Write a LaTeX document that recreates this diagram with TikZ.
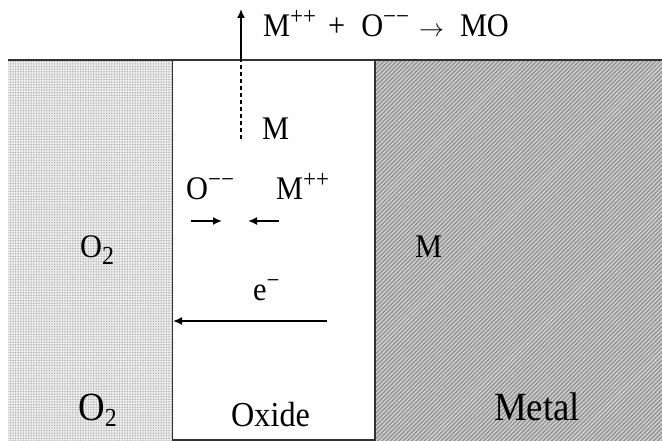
\documentclass[tikz,border=0pt]{standalone}
\usepackage{fontspec}
\setmainfont{Liberation Serif}
\newfontfamily\lab[FakeStretch=0.92]{Liberation Serif}
\newcommand\up[1]{\raisebox{12pt}{\fontsize{25}{27}\selectfont #1}}
\newcommand\down[1]{\raisebox{-6pt}{\fontsize{26}{28}\selectfont #1}}
\usepackage{tikz}
\usetikzlibrary{arrows.meta,patterns.meta}

\begin{document}
\begin{tikzpicture}[x=1pt,y=-1pt,
  lab/.style={font=\lab\fontsize{33}{36}\selectfont,inner sep=0pt,anchor=base west},
  biglab/.style={font=\lab\fontsize{40}{44}\selectfont,inner sep=0pt,anchor=base west},
  edge/.style={line width=1.8pt,black!80},
  flow/.style={line width=1.6pt,-{Latex[length=9pt,width=8pt]}}]
\useasboundingbox (0,0) rectangle (662,441);
% gas, oxide and metal
\fill[gray!15] (8,60) rectangle (172,441);
\fill[pattern={Dots[distance=2.6pt,radius=0.75pt]},pattern color=gray!70] (8,60) rectangle (172,441);
\fill[gray!35] (375,60) rectangle (662,441);
\fill[pattern={Lines[angle=45,distance=3pt,line width=1.4pt]},pattern color=gray!85] (375,60) rectangle (662,441);
\draw[edge] (8,60) -- (662,60);
\draw[line width=1pt,black!80] (172,60) -- (172,441);
\draw[edge] (375,60) -- (375,441);
\draw[edge] (172,440) -- (375,440);

\node[lab] (react) at (263,37) {M\up{++}\hspace{12pt}+\hspace{16pt}O\up{−−}\hspace{10pt}{\fontsize{25}{27}\selectfont$\rightarrow$}\hspace{16pt}MO};
\node[lab] (m) at (262,140) {M};
\node[lab] (oion) at (186,200) {O\up{−−}};
\node[lab] (mion) at (276,200) {M\up{++}};
\node[lab] (o2) at (80,258) {O\down{2}};
\node[lab] (mmetal) at (415,258) {M};
\node[lab] (elec) at (253,300) {e\up{−}};
\node[biglab] (o2gas) at (78,420) {O\down{2}};
\node[lab,font=\lab\fontsize{35}{38}\selectfont] (oxide) at (231,426) {Oxide};
\node[biglab] (metal) at (494,420) {Metal};

\coordinate (mlow) at (241,139);
\coordinate (msurf) at (241,60);
\coordinate (mtop) at (241,9);
\draw[line width=1.2pt,dash pattern=on 4pt off 3pt] (mlow) -- (msurf);
\draw[flow] (msurf) -- (mtop);
\coordinate (otail) at (191,221);
\coordinate (ohead) at (222,221);
\coordinate (mtail) at (279,221);
\coordinate (mhead) at (248,221);
\draw[flow] (otail) -- (ohead);
\draw[flow] (mtail) -- (mhead);
\coordinate (etail) at (327,321);
\coordinate (ehead) at (173,321);
\draw[flow] (etail) -- (ehead);
\end{tikzpicture}
\end{document}
